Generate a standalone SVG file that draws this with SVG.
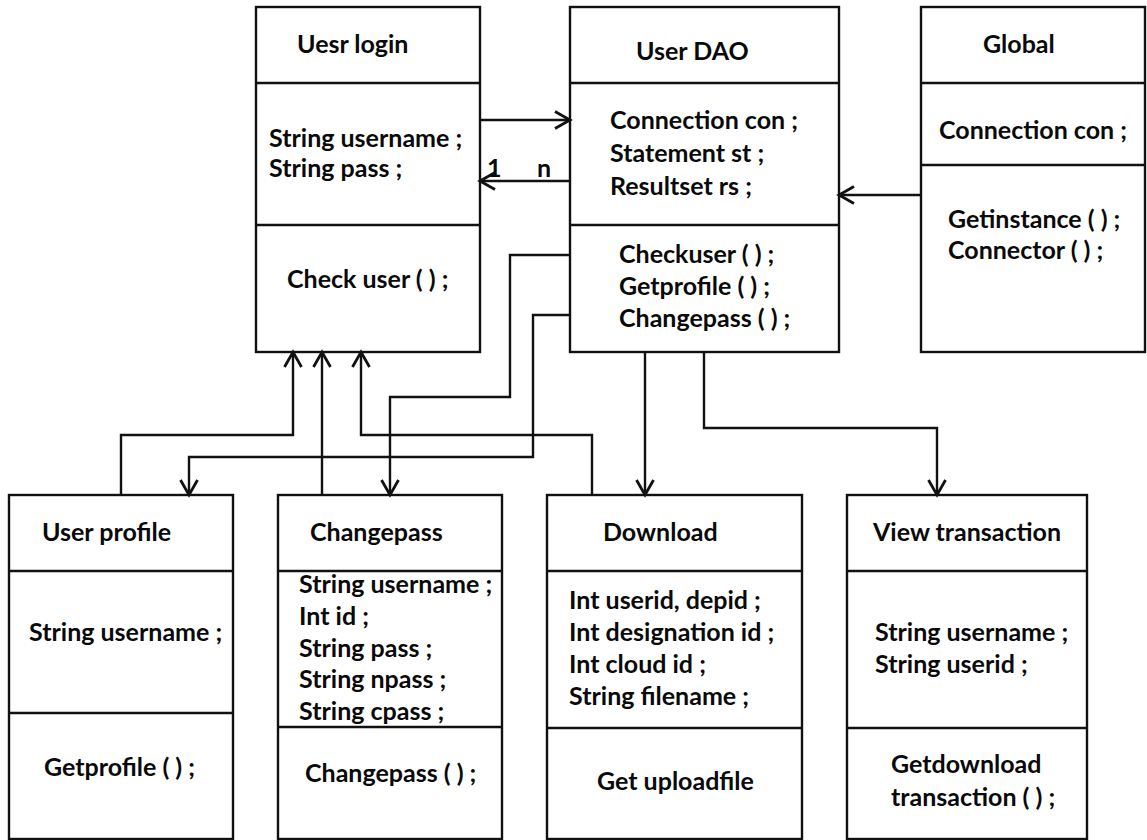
<svg xmlns="http://www.w3.org/2000/svg" width="1147" height="840" viewBox="0 0 1147 840">
  <style>
    .box { fill: #fff; stroke: #111; stroke-width: 2.4; }
    .sep { stroke: #111; stroke-width: 2.4; }
    .t { font-family: Lato, "Liberation Sans", sans-serif; font-weight: 700; font-size: 25px; fill: #0a0a0a; }
    .c { fill: none; stroke: #111; stroke-width: 2.4; marker-end: url(#arr); }
  </style>
  <defs>
    <marker id="arr" viewBox="0 0 20 20" refX="17" refY="10" markerWidth="20" markerHeight="20" markerUnits="userSpaceOnUse" orient="auto">
      <path d="M2,1.5 L17,10 L2,18.5" fill="none" stroke="#111" stroke-width="2.8"/>
    </marker>
  </defs>
  <rect width="1147" height="840" fill="#fff"/>

  <!-- classes, top row -->
  <g id="uesr-login">
    <rect class="box" x="256" y="7" width="224" height="345"/>
    <line class="sep" x1="256" y1="83" x2="480" y2="83"/>
    <line class="sep" x1="256" y1="225" x2="480" y2="225"/>
    <text class="t" x="297" y="53">Uesr login</text>
    <text class="t" x="269" y="147">String username ;</text>
    <text class="t" x="269" y="177">String pass ;</text>
    <text class="t" x="287" y="288">Check user ( ) ;</text>
  </g>

  <g id="user-dao">
    <rect class="box" x="570" y="7" width="269" height="345"/>
    <line class="sep" x1="570" y1="83" x2="839" y2="83"/>
    <line class="sep" x1="570" y1="225" x2="839" y2="225"/>
    <text class="t" x="636" y="60">User DAO</text>
    <text class="t" x="610" y="129">Connection con ;</text>
    <text class="t" x="610" y="162">Statement st ;</text>
    <text class="t" x="610" y="195">Resultset rs ;</text>
    <text class="t" x="619" y="263">Checkuser ( ) ;</text>
    <text class="t" x="619" y="295">Getprofile ( ) ;</text>
    <text class="t" x="619" y="327">Changepass ( ) ;</text>
  </g>

  <g id="global">
    <rect class="box" x="921" y="7" width="224" height="345"/>
    <line class="sep" x1="921" y1="83" x2="1145" y2="83"/>
    <line class="sep" x1="921" y1="165" x2="1145" y2="165"/>
    <text class="t" x="983" y="53">Global</text>
    <text class="t" x="939" y="139">Connection con ;</text>
    <text class="t" x="948" y="228">Getinstance ( ) ;</text>
    <text class="t" x="948" y="259">Connector ( ) ;</text>
  </g>

  <!-- classes, bottom row -->
  <g id="user-profile">
    <rect class="box" x="9" y="495" width="224" height="344"/>
    <line class="sep" x1="9" y1="571" x2="233" y2="571"/>
    <line class="sep" x1="9" y1="713" x2="233" y2="713"/>
    <text class="t" x="42" y="541">User profile</text>
    <text class="t" x="29" y="641">String username ;</text>
    <text class="t" x="44" y="776">Getprofile ( ) ;</text>
  </g>

  <g id="changepass">
    <rect class="box" x="278" y="495" width="224" height="344"/>
    <line class="sep" x1="278" y1="571" x2="502" y2="571"/>
    <line class="sep" x1="278" y1="727" x2="502" y2="727"/>
    <text class="t" x="310" y="541">Changepass</text>
    <text class="t" x="299" y="593">String username ;</text>
    <text class="t" x="299" y="625">Int id ;</text>
    <text class="t" x="299" y="657">String pass ;</text>
    <text class="t" x="299" y="688">String npass ;</text>
    <text class="t" x="299" y="720">String cpass ;</text>
    <text class="t" x="305" y="782">Changepass ( ) ;</text>
  </g>

  <g id="download">
    <rect class="box" x="547" y="495" width="255" height="344"/>
    <line class="sep" x1="547" y1="571" x2="802" y2="571"/>
    <line class="sep" x1="547" y1="728" x2="802" y2="728"/>
    <text class="t" x="603" y="541">Download</text>
    <text class="t" x="569" y="609">Int userid, depid ;</text>
    <text class="t" x="569" y="641">Int designation id ;</text>
    <text class="t" x="569" y="673">Int cloud id ;</text>
    <text class="t" x="569" y="705">String filename ;</text>
    <text class="t" x="597" y="790">Get uploadfile</text>
  </g>

  <g id="view-transaction">
    <rect class="box" x="847" y="495" width="240" height="344"/>
    <line class="sep" x1="847" y1="571" x2="1087" y2="571"/>
    <line class="sep" x1="847" y1="728" x2="1087" y2="728"/>
    <text class="t" x="873" y="541">View transaction</text>
    <text class="t" x="875" y="641">String username ;</text>
    <text class="t" x="875" y="673">String userid ;</text>
    <text class="t" x="891" y="773">Getdownload</text>
    <text class="t" x="891" y="806">transaction ( ) ;</text>
  </g>

  <!-- associations -->
  <g id="connectors">
    <path class="c" d="M480,120 H570"/>
    <path class="c" d="M570,181 H480"/>
    <path class="c" d="M921,195 H839"/>
    <path class="c" d="M570,315 H533 V457 H189 V495"/>
    <path class="c" d="M570,255 H510 V397 H390 V495"/>
    <path class="c" d="M645,352 V495"/>
    <path class="c" d="M704,352 V428 H937 V495"/>
    <path class="c" d="M121,495 V435 H293 V352"/>
    <path class="c" d="M322,495 V352"/>
    <path class="c" d="M592,495 V435 H361 V352"/>
    <text class="t" x="487" y="177">1</text>
    <text class="t" x="537" y="177">n</text>
  </g>
</svg>
